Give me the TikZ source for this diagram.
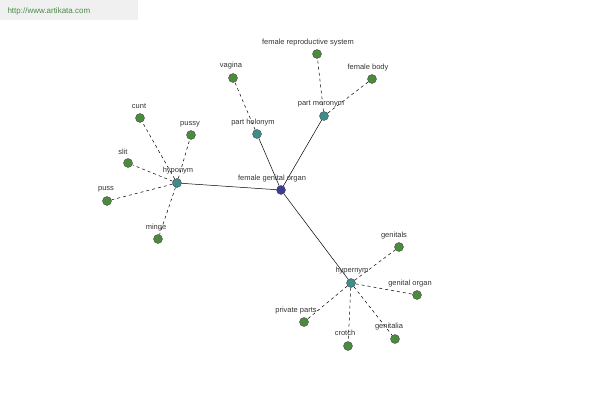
\documentclass[tikz,border=0pt]{standalone}
\usepackage{fontspec}
\setmainfont{Liberation Sans}
\begin{document}
\begin{tikzpicture}[x=1pt,y=-1pt,
  dot/.style={circle,draw=black!70,line width=0.4pt,inner sep=0pt,minimum size=9pt},
  leaf/.style={dot,fill={rgb,255:red,76;green,138;blue,62}},
  cat/.style={dot,fill={rgb,255:red,64;green,140;blue,140}},
  hub/.style={dot,fill={rgb,255:red,60;green,60;blue,150}},
  lbl/.style={font=\fontsize{7.5}{8}\selectfont,text=black!80,inner sep=0pt},
  solidedge/.style={draw=black,line width=0.5pt},
  dashedge/.style={draw=black,line width=0.5pt,dashed}]
\useasboundingbox (0,0) rectangle (600,400);
\fill[black!6] (0,0) rectangle (138,20);
\node[font=\fontsize{8}{9}\selectfont,text=green!35!black!70,anchor=west] (wm) at (4,11) {http://www.artikata.com};
% nodes
\node[hub] (c) at (281,190) {};
\node[cat] (hol) at (257,134) {};
\node[cat] (mer) at (324,116) {};
\node[cat] (hypo) at (177,183) {};
\node[cat] (hyper) at (351,283) {};
\node[leaf] (vag) at (233,78) {};
\node[leaf] (frs) at (317,54) {};
\node[leaf] (fb) at (372,79) {};
\node[leaf] (cunt) at (140,118) {};
\node[leaf] (pussy) at (191,135) {};
\node[leaf] (slit) at (128,163) {};
\node[leaf] (puss) at (107,201) {};
\node[leaf] (minge) at (158,239) {};
\node[leaf] (gen) at (399,247) {};
\node[leaf] (go) at (417,295) {};
\node[leaf] (gla) at (395,339) {};
\node[leaf] (cro) at (348,346) {};
\node[leaf] (pp) at (304,322) {};
% edges
\foreach \a in {hol,mer,hypo,hyper} \draw[solidedge] (c) -- (\a);
\draw[dashedge] (hol) -- (vag);
\foreach \a in {frs,fb} \draw[dashedge] (mer) -- (\a);
\foreach \a in {cunt,pussy,slit,puss,minge} \draw[dashedge] (hypo) -- (\a);
\foreach \a in {gen,go,gla,cro,pp} \draw[dashedge] (hyper) -- (\a);
% labels
\node[lbl] (lc) at (272,179) {female genital organ};
\node[lbl] (lhol) at (253,123) {part holonym};
\node[lbl] (lmer) at (321,104) {part meronym};
\node[lbl] (lhypo) at (178,171) {hyponym};
\node[lbl] (lhyper) at (352,271) {hypernym};
\node[lbl] (lvag) at (231,66) {vagina};
\node[lbl] (lfrs) at (308,43) {female reproductive system};
\node[lbl] (lfb) at (368,68) {female body};
\node[lbl] (lcunt) at (139,106) {cunt};
\node[lbl] (lpussy) at (190,124) {pussy};
\node[lbl] (lslit) at (123,152) {slit};
\node[lbl] (lpuss) at (106,189) {puss};
\node[lbl] (lminge) at (156,228) {minge};
\node[lbl] (lgen) at (394,236) {genitals};
\node[lbl] (lgo) at (410,284) {genital organ};
\node[lbl] (lgla) at (389,327) {genitalia};
\node[lbl] (lcro) at (345,333) {crotch};
\node[lbl] (lpp) at (296,311) {private parts};
\end{tikzpicture}
\end{document}
